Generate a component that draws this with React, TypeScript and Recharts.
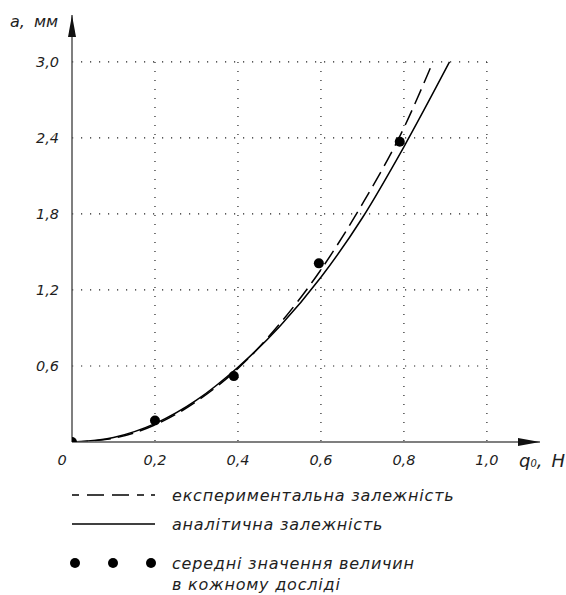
import { ComposedChart, Line, Scatter, XAxis, YAxis, ReferenceLine, ReferenceDot } from 'recharts';

// експериментальна залежність (dashed)
const expQ = [0, 0.1, 0.2, 0.3, 0.4, 0.5, 0.6, 0.7, 0.8, 0.87];
const expA = [0, 0.03, 0.135, 0.32, 0.58, 0.93, 1.36, 1.88, 2.48, 3.0];

// аналітична залежність (solid)
const anQ = [0, 0.1, 0.2, 0.3, 0.4, 0.5, 0.6, 0.7, 0.8, 0.91];
const anA = [0, 0.036, 0.145, 0.33, 0.59, 0.91, 1.3, 1.77, 2.33, 3.0];

// середні значення величин в кожному досліді
const ptQ = [0, 0.2, 0.39, 0.595, 0.79];
const ptA = [0, 0.17, 0.52, 1.41, 2.37];

const xTicks = [0, 0.2, 0.4, 0.6, 0.8, 1.0];
const yTicks = [0.6, 1.2, 1.8, 2.4, 3.0];

const legendLabels = ['експериментальна залежність', 'аналітична залежність', 'середні значення величин', 'в кожному досліді'];

const FONT = '"DejaVu Sans", sans-serif';
const INK = '#1e1e1e';
const X_MAX = 1.128;
const Y_MAX = 3.37;

const expData = expQ.map((q, i) => ({ q, a: expA[i] }));
const anData = anQ.map((q, i) => ({ q, a: anA[i] }));
const ptData = ptQ.map((q, i) => ({ q, a: ptA[i] }));

const fmt = (v: number) => v.toFixed(1).replace('.', ',');

const XTick = ({ x, y, payload }: any) => (
  <text x={payload.value === 0 ? x - 10 : x} y={y + 15} textAnchor="middle" fontFamily={FONT}
    fontStyle="italic" fontSize={14.5} fill={INK}>
    {payload.value === 0 ? '0' : fmt(payload.value)}
  </text>
);

const YTick = ({ x, y, payload }: any) => (
  <text x={x} y={y + 5} textAnchor="end" fontFamily={FONT} fontStyle="italic" fontSize={14.5} fill={INK}>
    {fmt(payload.value)}
  </text>
);

const arrowRight = ({ cx, cy }: any) => (
  <polygon points={`${cx},${cy} ${cx - 22},${cy - 4} ${cx - 22},${cy + 4}`} fill="#111" />
);
const arrowUp = ({ cx, cy }: any) => (
  <polygon points={`${cx},${cy} ${cx - 4},${cy + 22} ${cx + 4},${cy + 22}`} fill="#111" />
);

const dot = (props: any) => <circle cx={props.cx} cy={props.cy} r={5} fill="#000" />;

export default function App() {
  return (
    <div style={{ position: 'absolute', left: 0, top: 0, width: 566, height: 595, background: '#fff' }}>
      <ComposedChart width={566} height={470} margin={{ top: 15, right: 26, bottom: 0, left: 12 }}>
        <XAxis type="number" dataKey="q" domain={[0, X_MAX]} ticks={xTicks} tick={<XTick />}
          tickLine={false} axisLine={{ stroke: '#555', strokeWidth: 1.5 }} height={28} allowDataOverflow
          label={{
            content: () => (
              <text x={519} y={467} fontFamily={FONT} fontStyle="italic" fontSize={18} fill={INK}>
                q<tspan fontSize={10}>0</tspan><tspan>,</tspan><tspan dx={9}>Н</tspan>
              </text>
            ),
          }} />
        <YAxis type="number" dataKey="a" domain={[0, Y_MAX]} ticks={yTicks} tick={<YTick />}
          tickLine={false} tickMargin={7} axisLine={{ stroke: '#555', strokeWidth: 1.5 }} width={60} allowDataOverflow
          label={{
            content: () => (
              <text x={10} y={27} fontFamily={FONT} fontStyle="italic" fontSize={16} fill={INK}>
                а,<tspan dx={9}>мм</tspan>
              </text>
            ),
          }} />
        {yTicks.map((v) => (
          <ReferenceLine key={'h' + v} segment={[{ x: 0, y: v }, { x: 1.0, y: v }]} stroke="#222"
            strokeWidth={1.2} strokeDasharray="1.2 7.8" ifOverflow="visible" />
        ))}
        {xTicks.slice(1).map((v) => (
          <ReferenceLine key={'v' + v} segment={[{ x: v, y: 3.0 }, { x: v, y: 0 }]} stroke="#222"
            strokeWidth={1.2} strokeDasharray="1.2 7.8" ifOverflow="visible" />
        ))}
        <ReferenceDot x={X_MAX} y={0} r={0} shape={arrowRight} ifOverflow="visible" />
        <ReferenceDot x={0} y={Y_MAX} r={0} shape={arrowUp} ifOverflow="visible" />
        <Line data={expData} dataKey="a" type="monotone" stroke="#000" strokeWidth={1.5}
          strokeDasharray="16 7" dot={false} isAnimationActive={false} />
        <Line data={anData} dataKey="a" type="monotone" stroke="#000" strokeWidth={1.5}
          dot={false} isAnimationActive={false} />
        <Scatter data={ptData} dataKey="a" shape={dot} isAnimationActive={false} />
      </ComposedChart>
      <svg width={566} height={125} style={{ position: 'absolute', left: 0, top: 470 }}>
        <line x1={72} y1={25} x2={155} y2={25} stroke="#000" strokeWidth={1.5} strokeDasharray="7 8 17 8 17 8 7" />
        <line x1={72} y1={54} x2={155} y2={54} stroke="#000" strokeWidth={1.5} />
        {[75, 113, 151].map((cx) => (
          <circle key={cx} cx={cx} cy={93} r={5} fill="#000" />
        ))}
        {legendLabels.map((t, i) => (
          <text key={t} x={172} y={[31, 60, 99, 120][i]} fontFamily={FONT} fontStyle="italic"
            fontSize={16} letterSpacing={0.8} fill={INK}>{t}</text>
        ))}
      </svg>
    </div>
  );
}
